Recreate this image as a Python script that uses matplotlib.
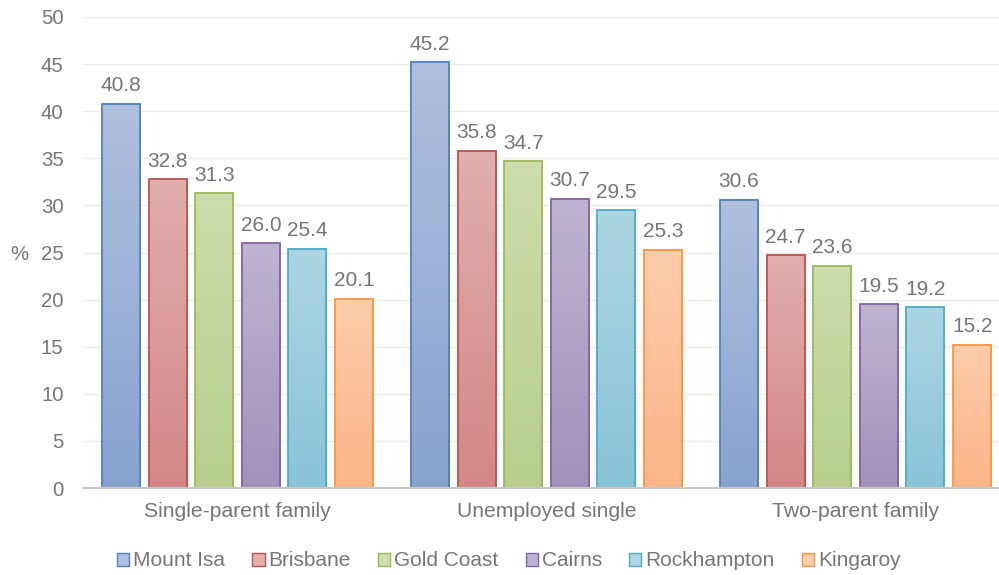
"""
Grouped bar chart of the share (%) by household type for six
Queensland locations, with vertically shaded bars.
"""

import numpy as np
import matplotlib.pyplot as plt
from matplotlib.colors import LinearSegmentedColormap
from matplotlib.patches import Patch

plt.rcParams["font.family"] = ["Liberation Sans", "DejaVu Sans"]

# ─────────────────────────────────────────────
# DATA
# ─────────────────────────────────────────────

categorias = ["Single-parent family", "Unemployed single", "Two-parent family"]
locais = ["Mount Isa", "Brisbane", "Gold Coast", "Cairns", "Rockhampton", "Kingaroy"]

mount_isa = [40.8, 45.2, 30.6]
brisbane = [32.8, 35.8, 24.7]
gold_coast = [31.3, 34.7, 23.6]
cairns = [26.0, 30.7, 19.5]
rockhampton = [25.4, 29.5, 19.2]
kingaroy = [20.1, 25.3, 15.2]

series = [mount_isa, brisbane, gold_coast, cairns, rockhampton, kingaroy]

# (borda, topo claro, base escura)
cores = [
    ("#4F81BD", "#AFC0DE", "#88A3D0"),
    ("#C0504D", "#E1AFAE", "#D28786"),
    ("#9BBB59", "#CDDDAD", "#B7CE8C"),
    ("#8064A2", "#BFB4D1", "#A291BB"),
    ("#4BACC6", "#ADD5E3", "#89C4D9"),
    ("#F79646", "#FDCCAB", "#FBB588"),
]

TEXTO = "#767676"
FONTE_EIXO = 14.7
FONTE_VALOR = 15
FONTE_CAT = 15.2

# ─────────────────────────────────────────────
# FIGURA
# ─────────────────────────────────────────────

fig = plt.figure(figsize=(9.99, 5.75), dpi=100)
ax = fig.add_axes([83 / 999, 87 / 575, 927 / 999, 471 / 575])

x = np.arange(len(categorias))
passo = 0.151
largura = 0.123
gradiente = np.linspace(0, 1, 256).reshape(-1, 1)

for i, (valores, (borda, topo, base)) in enumerate(zip(series, cores)):
    pos = x + (i - 2.5) * passo
    cmap = LinearSegmentedColormap.from_list(f"g{i}", [base, topo])
    for xp, v in zip(pos, valores):
        ax.imshow(gradiente, cmap=cmap, origin="lower", aspect="auto",
                  extent=(xp - largura / 2, xp + largura / 2, 0, v),
                  zorder=2, interpolation="bilinear")
    ax.bar(pos, valores, width=largura, facecolor="none",
           edgecolor=borda, linewidth=1.3, zorder=3)
    for xp, v in zip(pos, valores):
        ax.annotate(f"{v:.1f}", (xp, v), xytext=(0, 6),
                    textcoords="offset points", ha="center", va="bottom",
                    color=TEXTO, fontsize=FONTE_VALOR)

ax.set_xlim(-0.5, 2.5)
ax.set_ylim(0, 50)
ax.set_yticks(range(0, 51, 5))
ax.set_xticks(x)
ax.set_xticklabels(categorias)

ax.grid(axis="y", color="#EBEBEB", linewidth=1.0, zorder=0)
ax.set_axisbelow(True)
for lado in ["top", "right", "left"]:
    ax.spines[lado].set_visible(False)
ax.spines["bottom"].set_color("#C8C8C8")
ax.spines["bottom"].set_linewidth(1.5)
ax.spines["bottom"].set_zorder(4)

ax.tick_params(axis="y", length=0, pad=14, labelcolor=TEXTO, labelsize=FONTE_EIXO)
ax.tick_params(axis="x", length=0, pad=10, labelcolor=TEXTO, labelsize=FONTE_CAT)

ax.set_ylabel("%", rotation=0, color=TEXTO, fontsize=FONTE_EIXO,
              ha="center", va="center")
ax.yaxis.set_label_coords(-0.069, 0.495)

# Legenda
handles = [Patch(facecolor=meio, edgecolor=borda, linewidth=1.0)
           for borda, meio, _ in cores]
fig.legend(handles, locais, loc="center", bbox_to_anchor=(509 / 999, 1 - 561 / 575),
           ncol=6, frameon=False, fontsize=FONTE_VALOR, labelcolor=TEXTO,
           handlelength=0.58, handleheight=0.58, handletextpad=0.2,
           columnspacing=1.3)

fig.savefig("out.png", dpi=100)
